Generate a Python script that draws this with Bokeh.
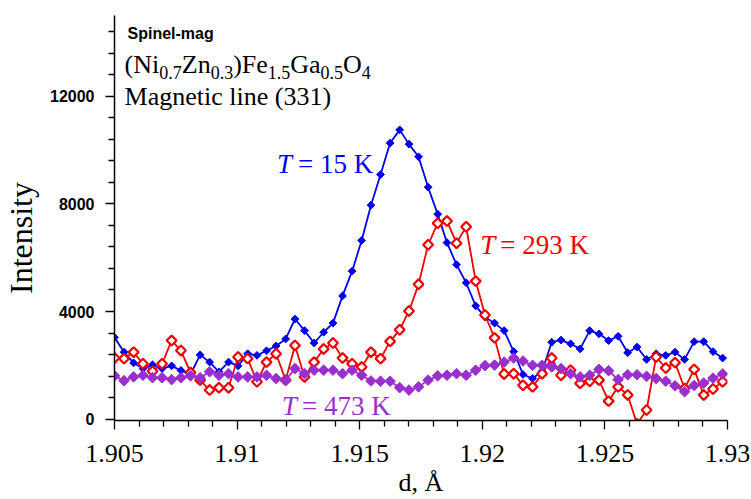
import math
from bokeh.plotting import figure
from bokeh.models import Label, FixedTicker, Range1d
from bokeh.embed import file_html
from bokeh.resources import INLINE

# ---------------- data ----------------
d_values = [1.90500, 1.90539, 1.90578, 1.90616, 1.90655, 1.90694, 1.90733, 1.90771, 1.90810, 1.90849,
            1.90888, 1.90926, 1.90965, 1.91004, 1.91043, 1.91081, 1.91120, 1.91159, 1.91198, 1.91236,
            1.91275, 1.91314, 1.91353, 1.91391, 1.91430, 1.91469, 1.91508, 1.91546, 1.91585, 1.91624,
            1.91663, 1.91701, 1.91740, 1.91779, 1.91818, 1.91856, 1.91895, 1.91934, 1.91973, 1.92011,
            1.92050, 1.92089, 1.92128, 1.92166, 1.92205, 1.92244, 1.92283, 1.92321, 1.92360, 1.92399,
            1.92438, 1.92476, 1.92515, 1.92554, 1.92593, 1.92631, 1.92670, 1.92709, 1.92748, 1.92786,
            1.92825, 1.92864, 1.92903, 1.92941, 1.92980]

intensity_15K = [3040, 2490, 2090, 1880, 2020, 1880, 1980, 1810, 1660, 2390,
                 2120, 1760, 2120, 1980, 2430, 2370, 2540, 2720, 2980, 3720,
                 3290, 2830, 3230, 3570, 4580, 5500, 6640, 7950, 9090, 10260,
                 10750, 10220, 9750, 8620, 7620, 6560, 5740, 5070, 4210, 3790,
                 3570, 3290, 2510, 1660, 1510, 1780, 2860, 2940, 2800, 2610,
                 3290, 3170, 2920, 3080, 2470, 2680, 2220, 2430, 2370, 2490,
                 2220, 2880, 2880, 2510, 2270]

intensity_293K = [2270, 2250, 2490, 2060, 1780, 2060, 2920, 2550, 1730, 1450,
                  1080, 1170, 1170, 2310, 2250, 1390, 2120, 2430, 1450, 2740,
                  1570, 2120, 2610, 2830, 2270, 2060, 1940, 2490, 2250, 2890,
                  3320, 4020, 5010, 6480, 7280, 7360, 6540, 7150, 5130, 3870,
                  3020, 1680, 1690, 1260, 1200, 1690, 2270, 1630, 1820, 1330,
                  1410, 1450, 670, 1200, 900, -180, 340, 2310, 1900, 2100,
                  1140, 1850, 900, 1120, 1390]

intensity_473K = [1610, 1430, 1570, 1630, 1540, 1540, 1470, 1540, 1610, 1540,
                  1760, 1630, 1690, 1570, 1570, 1570, 1630, 1510, 1450, 1880,
                  1690, 1820, 1820, 1820, 1690, 1820, 1630, 1420, 1410, 1410,
                  1170, 1080, 1200, 1450, 1610, 1630, 1690, 1630, 1820, 1990,
                  2010, 2120, 2270, 2160, 2000, 2000, 1940, 1880, 1690, 1570,
                  1630, 1850, 1800, 1470, 1650, 1650, 1590, 1510, 1410, 1240,
                  1020, 1250, 1340, 1520, 1680]

x_major_ticks = [1.905, 1.91, 1.915, 1.92, 1.925, 1.93]
x_tick_labels = ["1.905", "1.91", "1.915", "1.92", "1.925", "1.93"]
x_minor_ticks = [1.906, 1.907, 1.908, 1.909, 1.911, 1.912, 1.913, 1.914,
                 1.916, 1.917, 1.918, 1.919, 1.921, 1.922, 1.923, 1.924,
                 1.926, 1.927, 1.928, 1.929]
y_major_ticks = [0, 4000, 8000, 12000]
y_tick_labels = ["0", "4000", "8000", "12000"]
y_minor_ticks = [800, 1600, 2400, 3200, 4800, 5600, 6400, 7200,
                 8800, 9600, 10400, 11200, 12800, 13600, 14400]

BLUE = "#0000f0"
RED = "#f00000"
PURPLE = "#9a2fd0"
SERIF = "Liberation Serif"
SANS = "Liberation Sans"

# ---------------- figure ----------------
p = figure(width=751, height=499, output_backend="svg", toolbar_location=None,
           x_range=Range1d(1.905, 1.93), y_range=Range1d(-50, 15000),
           min_border_left=112, min_border_right=24, min_border_top=15,
           min_border_bottom=78)
p.outline_line_color = None
p.xgrid.visible = False
p.ygrid.visible = False
p.background_fill_color = "white"
p.border_fill_color = "white"

for ax in (p.xaxis[0], p.yaxis[0]):
    ax.axis_line_color = "black"
    ax.axis_line_width = 1.5
    ax.major_tick_line_color = "black"
    ax.minor_tick_line_color = "black"
    ax.major_tick_line_width = 1.3
    ax.minor_tick_line_width = 1.3
    ax.major_tick_in = 0
    ax.minor_tick_in = 0
    ax.major_tick_out = 9
    ax.minor_tick_out = 6
    ax.major_label_text_color = "black"
    ax.axis_label_text_color = "black"
    ax.axis_label_text_font_style = "normal"

p.xaxis.ticker = FixedTicker(ticks=x_major_ticks, minor_ticks=x_minor_ticks)
p.xaxis.major_label_overrides = {t: l for t, l in zip(x_major_ticks, x_tick_labels)}
p.xaxis.major_label_text_font = SERIF
p.xaxis.major_label_text_font_size = "26px"
p.xaxis.major_label_standoff = 15
p.xaxis.axis_label = "d, Å"
p.xaxis.axis_label_text_font = SERIF
p.xaxis.axis_label_text_font_size = "26px"
p.xaxis.axis_label_standoff = 3

p.yaxis.ticker = FixedTicker(ticks=y_major_ticks, minor_ticks=y_minor_ticks)
p.yaxis.major_label_overrides = {t: l for t, l in zip(y_major_ticks, y_tick_labels)}
p.yaxis.major_label_text_font = SANS
p.yaxis.major_label_text_font_size = "16px"
p.yaxis.major_label_text_font_style = "bold"
p.yaxis.major_label_standoff = 11
p.yaxis.major_label_orientation = "horizontal"
# trailing no-break spaces push the rotated title a little below the frame centre
p.yaxis.axis_label = "Intensity" + "\u00a0" * 5
p.yaxis.axis_label_text_font = SERIF
p.yaxis.axis_label_text_font_size = "32px"
p.yaxis.axis_label_standoff = 8

# ---------------- series ----------------
ang = math.pi / 4
p.line(d_values, intensity_15K, line_color=BLUE, line_width=1.8)
p.scatter(d_values, intensity_15K, marker="square", angle=ang, size=5.5,
          fill_color=BLUE, line_color=BLUE, line_width=1)

p.line(d_values, intensity_293K, line_color=RED, line_width=1.8)
p.scatter(d_values, intensity_293K, marker="square", angle=ang, size=7,
          fill_color="white", line_color=RED, line_width=2.2)

p.line(d_values, intensity_473K, line_color=PURPLE, line_width=1.8)
p.scatter(d_values, intensity_473K, marker="square", angle=ang, size=7.5,
          fill_color=PURPLE, line_color=PURPLE, line_width=1)

# ---------------- annotations (data anchors, pixel offsets) ----------------
def add_text(x, y, text, size, color="black", font=SERIF, style="normal", dx=0, dy=0):
    p.add_layout(Label(x=x, y=y, x_offset=dx, y_offset=dy, text=text,
                       text_font=font, text_font_size=size, text_color=color,
                       text_font_style=style, text_baseline="alphabetic",
                       text_align="left"))

add_text(1.90553, 14130, "Spinel-mag", "16px", font=SANS, style="bold", dy=5)

formula = [("(Ni", False), ("0.7", True), ("Zn", False), ("0.3", True), (")Fe", False),
           ("1.5", True), ("Ga", False), ("0.5", True), ("O", False), ("4", True)]
formula_dx = [0, 34.7, 57.2, 86.1, 108.6, 143.2, 165.7, 196.0, 218.5, 237.3]
for (txt, sub), fx in zip(formula, formula_dx):
    if sub:
        add_text(1.90541, 13030, txt, "18px", dx=fx, dy=-4)
    else:
        add_text(1.90541, 13030, txt, "26px", dx=fx, dy=4)

add_text(1.90541, 11820, "Magnetic line (331)", "26px", dy=5)

add_text(1.91171, 9055, "T", "27px", color=BLUE, style="italic", dx=-2, dy=11)
add_text(1.91171, 9055, "= 15 K", "27px", color=BLUE, dx=19, dy=11)

add_text(1.91992, 6180, "T", "27px", color=RED, style="italic", dy=8)
add_text(1.91992, 6180, "= 293 K", "27px", color=RED, dx=20, dy=8)

add_text(1.91183, 405, "T", "27px", color=PURPLE, style="italic", dy=2)
add_text(1.91183, 405, "= 473 K", "27px", color=PURPLE, dx=20, dy=2)

open("out.html", "w").write(file_html(p, INLINE))
